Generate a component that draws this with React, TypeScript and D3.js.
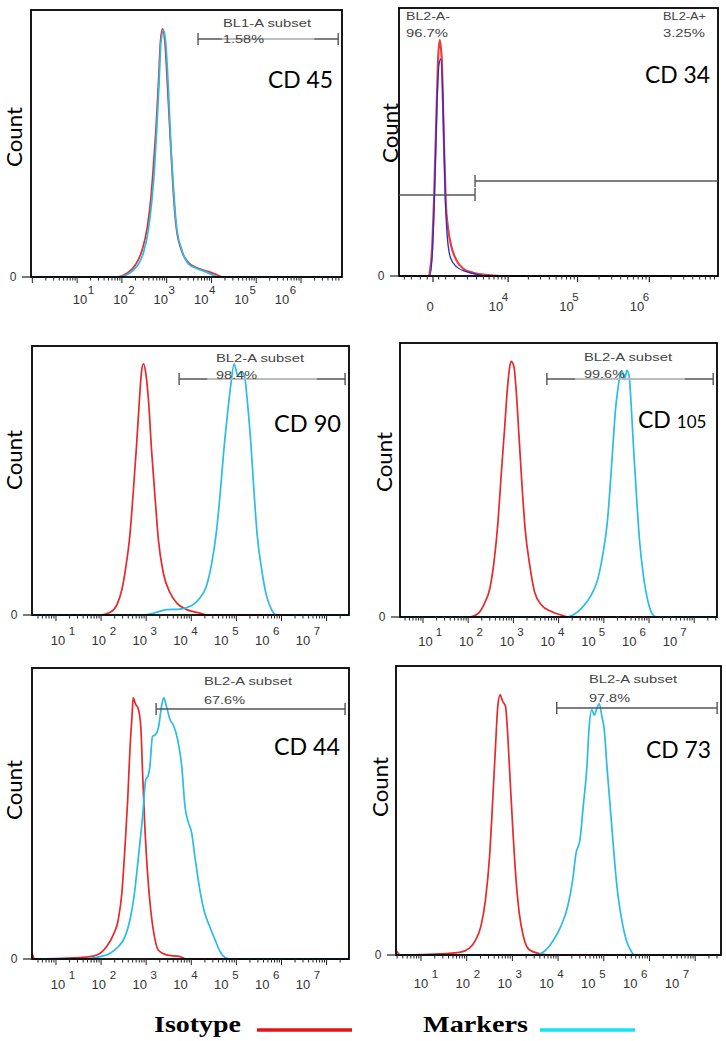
import React from "react";
import * as d3 from "d3";

type Pt = [number, number];

// ---------------- DATA ----------------
// Log panels: x = log10(fluorescence intensity), y = % of full count axis
const cd45Isotype: Pt[] = [[1.9,0],[2.1,1.3],[2.3,4.5],[2.45,10],[2.57,19],[2.65,30],[2.71,43],[2.77,58],[2.82,74],[2.86,88],[2.91,93],[2.96,88],[3.02,71],[3.08,52],[3.14,34],[3.21,19],[3.33,10],[3.48,5.5],[3.67,3.5],[3.9,2.2],[4.1,1],[4.25,0]];
const cd45Marker: Pt[] = [[1.96,0],[2.14,1.1],[2.33,3.9],[2.48,9],[2.59,17.6],[2.67,28.8],[2.73,41],[2.78,56],[2.83,72.5],[2.87,87.5],[2.93,92.5],[2.98,87.5],[3.04,70],[3.09,51],[3.15,34],[3.22,19],[3.34,10],[3.48,5],[3.67,3.2],[3.86,2],[4.04,0.7],[4.19,0]];

// CD34 panel: x = fluorescence intensity on a biexponential axis
const cd34Isotype: Pt[] = [[-173,0],[-56,6],[32,28],[113,59],[173,80],[238,88],[320,81],[408,53],[500,28],[614,18],[795,11],[1105,6],[1607,2.8],[2590,1.2],[4480,0.4],[7420,0]];
const cd34Marker: Pt[] = [[-111,0],[-22,8.4],[56,33],[137,65],[211,79],[291,81],[376,65],[467,33],[564,16],[739,7],[1105,3.5],[1898,1.6],[3440,0.4],[4480,0]];

const cd90Isotype: Pt[] = [[1.98,0],[2.2,1],[2.35,3.8],[2.46,9.4],[2.55,18],[2.64,30],[2.71,45],[2.79,64],[2.85,80],[2.9,91],[2.94,93.4],[2.99,90],[3.05,80],[3.12,61],[3.2,43],[3.27,28],[3.38,15.6],[3.53,8.2],[3.68,4.4],[3.9,2],[4.19,0.7],[4.34,0]];
const cd90Marker: Pt[] = [[2.94,0],[3.23,1],[3.45,2],[3.75,2.2],[4.01,3.5],[4.19,6.3],[4.34,11],[4.45,19],[4.55,30],[4.64,45],[4.72,61],[4.81,76],[4.88,86],[4.95,93.4],[5.03,89],[5.11,90.5],[5.18,88.8],[5.24,80],[5.32,64],[5.39,46],[5.46,30],[5.56,17],[5.67,7],[5.78,2],[5.89,0]];

const cd105Isotype: Pt[] = [[2.03,0],[2.22,1.3],[2.36,5],[2.48,10.5],[2.57,20],[2.66,35],[2.73,52],[2.81,70],[2.87,84],[2.92,91.5],[2.95,93.3],[3.01,91.5],[3.06,83],[3.12,67],[3.19,48],[3.26,32],[3.36,19],[3.47,9],[3.62,4.4],[3.84,2],[4.06,0.7],[4.21,0]];
const cd105Marker: Pt[] = [[4.19,0],[4.32,0.7],[4.54,3.8],[4.72,8],[4.87,14],[4.98,23],[5.08,35],[5.15,50],[5.22,67],[5.26,76],[5.31,83],[5.37,89],[5.41,89.6],[5.46,86.6],[5.51,90],[5.56,88],[5.61,76],[5.66,61],[5.72,45],[5.79,28],[5.88,14.6],[5.98,5.5],[6.07,1.2],[6.16,0]];

const cd44Isotype: Pt[] = [[0.47,1.7],[0.52,0],[1.53,0.5],[1.75,0.8],[1.98,2],[2.12,4.2],[2.27,8.3],[2.38,13.4],[2.46,22.6],[2.53,38.6],[2.59,54.7],[2.64,72],[2.69,84.5],[2.71,89.7],[2.77,87.4],[2.82,86.2],[2.88,80],[2.92,64],[2.97,45.5],[3.03,29.5],[3.1,16.9],[3.17,8.8],[3.27,3],[3.45,1.4],[3.75,0.8],[3.9,0]];
const cd44Marker: Pt[] = [[1.57,0],[1.98,0.8],[2.2,2],[2.38,4.2],[2.53,7.7],[2.64,13.4],[2.73,21.4],[2.82,34],[2.92,49],[2.99,61.6],[3.05,63.3],[3.08,66],[3.14,76.5],[3.2,77],[3.27,79.4],[3.34,86.8],[3.39,89.7],[3.45,86.8],[3.53,82.2],[3.6,80.5],[3.7,75.2],[3.79,66],[3.86,52.4],[3.93,47.2],[4.01,43.2],[4.08,35.2],[4.19,23.7],[4.3,15.7],[4.41,11.1],[4.53,6.5],[4.64,2.5],[4.75,0.5],[4.86,0]];

const cd73Isotype: Pt[] = [[0.46,1.3],[0.54,0],[1.55,0.5],[1.84,0.9],[2.06,2.4],[2.2,5.3],[2.31,9.9],[2.41,19],[2.5,34],[2.57,53.7],[2.63,72],[2.68,86],[2.73,90],[2.79,87.7],[2.85,86],[2.9,75.6],[2.95,60.6],[3.01,43.3],[3.08,26],[3.15,14.5],[3.24,6.5],[3.37,1.8],[3.59,0.5],[3.81,0]];
const cd73Marker: Pt[] = [[3.52,0],[3.7,1.3],[3.88,4.7],[4.06,9.9],[4.21,16.8],[4.32,26],[4.39,35],[4.48,40],[4.55,51.4],[4.63,65],[4.68,79],[4.74,84.8],[4.79,83],[4.85,85.4],[4.9,87],[4.96,82.5],[5.01,78],[5.07,65],[5.14,51.4],[5.21,37.6],[5.28,24.9],[5.38,13.4],[5.49,5.3],[5.6,1.3],[5.67,0]];

// Tick labels (decade exponents)
const decades6 = [1, 2, 3, 4, 5, 6];
const decades7 = [1, 2, 3, 4, 5, 6, 7];
const cd34Decades = [4, 5, 6];
const cd34Minor = [-1500, -1000, -500, -200, 200, 500, 1000, 2000, 3000, 4000, 5000, 6000, 7000, 8000, 9000,
  20000, 30000, 40000, 50000, 60000, 70000, 80000, 90000, 200000, 300000, 400000, 500000, 600000, 700000, 800000, 900000,
  2000000, 3000000, 4000000, 5000000, 6000000, 7000000, 8000000];
const cd34Major = [0, 10000, 100000, 1000000];

// Gates
const cd34GateSplit = 2826;

// ---------------- STYLE ----------------
const ISO = "#e52a2a";
const MK = "#2bbbe8";
const BLUE = "#2b2bd0";
const AX = "#333";
const GATE = "#555";
const SANS = "'Liberation Sans', Arial, sans-serif";
const CAL = "Lato, 'Open Sans', sans-serif";

interface LogPanelCfg {
  box: [number, number, number, number];
  dom: [number, number];
  iso: Pt[];
  mk: Pt[];
  gate: { lo: number; hi: number; y: number; light: boolean; name: string; pct: string; textX: number; nameY: number; pctY: number };
  exps: number[];
  labFirst: number;
  labLast: number;
  labY: number;
  supDx: number;
  count: [number, number];
  title: string;
  titleSmall?: string;
  titleX: number;
  titleY: number;
  titleW: number;
}

const panels: LogPanelCfg[] = [
  { box: [31, 10, 342, 277], dom: [-0.03, 6.915], iso: cd45Isotype, mk: cd45Marker,
    gate: { lo: 3.70, hi: 6.83, y: 39, light: true, name: "BL1-A subset", pct: "1.58%", textX: 223, nameY: 27, pctY: 43 },
    exps: decades6, labFirst: 80, labLast: 282, labY: 304, supDx: 11, count: [13, 137],
    title: "CD 45", titleX: 268, titleY: 88, titleW: 65 },
  { box: [32, 346, 349, 615], dom: [0.468, 7.497], iso: cd90Isotype, mk: cd90Marker,
    gate: { lo: 3.73, hi: 7.41, y: 379, light: true, name: "BL2-A subset", pct: "98.4%", textX: 216, nameY: 362, pctY: 379 },
    exps: decades7, labFirst: 58, labLast: 303, labY: 645, supDx: 14, count: [13, 460],
    title: "CD 90", titleX: 274, titleY: 432, titleW: 67 },
  { box: [400, 343, 717, 617], dom: [0.491, 7.504], iso: cd105Isotype, mk: cd105Marker,
    gate: { lo: 3.74, hi: 7.42, y: 379, light: true, name: "BL2-A subset", pct: "99.6%", textX: 584, nameY: 361, pctY: 378 },
    exps: decades7, labFirst: 425.5, labLast: 670, labY: 646, supDx: 13.5, count: [383, 462],
    title: "CD", titleSmall: "105", titleX: 638, titleY: 428, titleW: 75 },
  { box: [32, 668, 349, 959], dom: [0.468, 7.497], iso: cd44Isotype, mk: cd44Marker,
    gate: { lo: 3.22, hi: 7.41, y: 709, light: false, name: "BL2-A subset", pct: "67.6%", textX: 204, nameY: 685, pctY: 704 },
    exps: decades7, labFirst: 58, labLast: 303, labY: 989, supDx: 14, count: [13, 790],
    title: "CD 44", titleX: 274, titleY: 755, titleW: 66 },
  { box: [396, 666, 721, 955], dom: [0.453, 7.565], iso: cd73Isotype, mk: cd73Marker,
    gate: { lo: 3.97, hi: 7.48, y: 708, light: false, name: "BL2-A subset", pct: "97.8%", textX: 589, nameY: 683, pctY: 702 },
    exps: decades7, labFirst: 421, labLast: 672, labY: 988, supDx: 14, count: [379, 787],
    title: "CD 73", titleX: 646, titleY: 758, titleW: 65 },
];

function logTicks(lo: number, hi: number) {
  const t: { v: number; major: boolean }[] = [];
  for (let k = Math.floor(lo); k <= Math.ceil(hi); k++) {
    for (let m = 1; m <= 9; m++) {
      const v = m * Math.pow(10, k);
      const e = Math.log10(v);
      if (e > lo + 0.02 && e < hi - 0.02) t.push({ v, major: m === 1 });
    }
  }
  return t;
}

function CountLabel({ x, y }: { x: number; y: number }) {
  return (
    <text x={x} y={y} transform={`rotate(-90 ${x} ${y})`} textAnchor="middle" dominantBaseline="central"
      fontFamily={CAL} fontSize={21} fill="#000" textLength={60} lengthAdjust="spacingAndGlyphs">Count</text>
  );
}

function ZeroTick({ x0, y1 }: { x0: number; y1: number }) {
  return (
    <g>
      <line x1={x0 - 9} x2={x0} y1={y1} y2={y1} stroke="#222" strokeWidth={1.2} />
      <text x={x0 - 18} y={y1 + 4} textAnchor="middle" fontFamily={SANS} fontSize={12} fill={AX}>0</text>
    </g>
  );
}

function LogPanel({ p }: { p: LogPanelCfg }) {
  const [x0, y0, x1, y1] = p.box;
  const x = d3.scaleLog().domain([Math.pow(10, p.dom[0]), Math.pow(10, p.dom[1])]).range([x0, x1]);
  const y = d3.scaleLinear().domain([0, 100]).range([y1, y0]);
  const line = d3.line<Pt>().x((d) => x(Math.pow(10, d[0]))).y((d) => y(d[1])).curve(d3.curveMonotoneX);
  const ext = (pts: Pt[]): Pt[] => {
    const out: Pt[] = [];
    if (pts[0][0] > p.dom[0]) out.push([p.dom[0], 0]);
    out.push(...pts);
    if (pts[pts.length - 1][0] < p.dom[1]) out.push([p.dom[1], 0]);
    return out;
  };
  const lab = d3.scaleLinear().domain([p.exps[0], p.exps[p.exps.length - 1]]).range([p.labFirst, p.labLast]);
  const ticks = logTicks(p.dom[0], p.dom[1]);
  const g = p.gate;
  const gx0 = x(Math.pow(10, g.lo));
  const gx1 = x(Math.pow(10, g.hi));
  const gw = gx1 - gx0;
  return (
    <g>
      <path d={line(ext(p.iso)) || ""} fill="none" stroke={ISO} strokeWidth={1.7} />
      <path d={line(ext(p.mk)) || ""} fill="none" stroke={MK} strokeWidth={1.7} />
      <rect x={x0} y={y0} width={x1 - x0} height={y1 - y0} fill="none" stroke="#000" strokeWidth={1.8} />
      {ticks.map((t, i) => (
        <line key={i} x1={x(t.v)} x2={x(t.v)} y1={y1} y2={y1 + (t.major ? 6 : 3.5)} stroke="#222" strokeWidth={1} />
      ))}
      {p.exps.map((e) => (
        <g key={e}>
          <text x={lab(e)} y={p.labY} textAnchor="middle" fontFamily={SANS} fontSize={13} fill={AX}>10</text>
          <text x={lab(e) + p.supDx} y={p.labY - 10} textAnchor="middle" fontFamily={SANS} fontSize={11.5} fill={AX}>{e}</text>
        </g>
      ))}
      <ZeroTick x0={x0} y1={y1} />
      <CountLabel x={p.count[0]} y={p.count[1]} />
      {/* gate */}
      <line x1={gx0} x2={gx1} y1={g.y} y2={g.y} stroke={GATE} strokeWidth={1.4} />
      {g.light && <line x1={gx0 + gw * 0.17} x2={gx0 + gw * 0.83} y1={g.y} y2={g.y} stroke="#d2d2d2" strokeWidth={1.6} />}
      <line x1={gx0} x2={gx0} y1={g.y - 6} y2={g.y + 6} stroke={GATE} strokeWidth={1.4} />
      <line x1={gx1} x2={gx1} y1={g.y - 6} y2={g.y + 6} stroke={GATE} strokeWidth={1.4} />
      <text x={g.textX} y={g.nameY} fontFamily={SANS} fontSize={11.5} fill="#444" textLength={88} lengthAdjust="spacingAndGlyphs">{g.name}</text>
      <text x={g.textX} y={g.pctY} fontFamily={SANS} fontSize={11.5} fill="#444" textLength={41} lengthAdjust="spacingAndGlyphs">{g.pct}</text>
      {p.titleSmall ? (
        <text x={p.titleX} y={p.titleY} fontFamily={CAL} fontSize={23} fill="#000">
          CD<tspan dx={6} fontSize={17}>{p.titleSmall}</tspan>
        </text>
      ) : (
        <text x={p.titleX} y={p.titleY} fontFamily={CAL} fontSize={23} fill="#000" textLength={p.titleW} lengthAdjust="spacingAndGlyphs">{p.title}</text>
      )}
    </g>
  );
}

function CD34Panel() {
  const x0 = 399, y0 = 8, x1 = 718, y1 = 276;
  const x = d3.scaleSymlog().constant(1000).domain([-1962, 8.96e6]).range([x0, x1]);
  const y = d3.scaleLinear().domain([0, 100]).range([y1, y0]);
  const line = d3.line<Pt>().x((d) => x(d[0])).y((d) => y(d[1])).curve(d3.curveMonotoneX);
  const ext = (pts: Pt[]): Pt[] => [[-1962, 0], ...pts, [8.96e6, 0]];
  const lab = d3.scaleLinear().domain([4, 6]).range([496, 637]);
  const gs = x(cd34GateSplit);
  return (
    <g>
      <path d={line(ext(cd34Isotype)) || ""} fill="none" stroke={ISO} strokeWidth={2.2} opacity={0.9} />
      <path d={line(ext(cd34Marker)) || ""} fill="none" stroke={BLUE} strokeWidth={1.3} />
      <rect x={x0} y={y0} width={x1 - x0} height={y1 - y0} fill="none" stroke="#000" strokeWidth={1.8} />
      {cd34Minor.map((v, i) => (
        <line key={i} x1={x(v)} x2={x(v)} y1={y1} y2={y1 + 3.5} stroke="#222" strokeWidth={1} />
      ))}
      {cd34Major.map((v, i) => (
        <line key={i} x1={x(v)} x2={x(v)} y1={y1} y2={y1 + 6} stroke="#222" strokeWidth={1.2} />
      ))}
      <text x={430} y={311} textAnchor="middle" fontFamily={SANS} fontSize={13} fill={AX}>0</text>
      {cd34Decades.map((e) => (
        <g key={e}>
          <text x={lab(e)} y={311} textAnchor="middle" fontFamily={SANS} fontSize={13} fill={AX}>10</text>
          <text x={lab(e) + 9} y={301} textAnchor="middle" fontFamily={SANS} fontSize={11.5} fill={AX}>{e}</text>
        </g>
      ))}
      <ZeroTick x0={x0} y1={y1} />
      <CountLabel x={389} y={133} />
      {/* gates */}
      <line x1={x0} x2={gs} y1={195} y2={195} stroke={GATE} strokeWidth={1.4} />
      <line x1={gs} x2={gs} y1={188} y2={201} stroke={GATE} strokeWidth={1.4} />
      <line x1={gs} x2={x1} y1={181} y2={181} stroke={GATE} strokeWidth={1.4} />
      <line x1={gs} x2={gs} y1={175} y2={187} stroke={GATE} strokeWidth={1.4} />
      <text x={406} y={20} fontFamily={SANS} fontSize={11.5} fill="#444" textLength={44} lengthAdjust="spacingAndGlyphs">BL2-A-</text>
      <text x={406} y={37} fontFamily={SANS} fontSize={11.5} fill="#444" textLength={42} lengthAdjust="spacingAndGlyphs">96.7%</text>
      <text x={663} y={20} fontFamily={SANS} fontSize={11.5} fill="#444" textLength={43} lengthAdjust="spacingAndGlyphs">BL2-A+</text>
      <text x={663} y={37} fontFamily={SANS} fontSize={11.5} fill="#444" textLength={42} lengthAdjust="spacingAndGlyphs">3.25%</text>
      <text x={645} y={83} fontFamily={CAL} fontSize={23} fill="#000" textLength={65} lengthAdjust="spacingAndGlyphs">CD 34</text>
    </g>
  );
}

export default function App() {
  return (
    <svg width={726} height={1041} style={{ position: "absolute", left: 0, top: 0, background: "#fff" }}>
      <rect x={0} y={0} width={726} height={1041} fill="#fff" />
      {panels.map((p, i) => <LogPanel key={i} p={p} />)}
      <CD34Panel />
      {/* legend */}
      <text x={154} y={1032} fontFamily="'Liberation Serif', 'Times New Roman', serif" fontWeight="bold" fontSize={24}
        fill="#000" textLength={87} lengthAdjust="spacingAndGlyphs">Isotype</text>
      <line x1={257} x2={352} y1={1030} y2={1030} stroke="#e01414" strokeWidth={3.5} />
      <text x={423} y={1032} fontFamily="'Liberation Serif', 'Times New Roman', serif" fontWeight="bold" fontSize={24}
        fill="#000" textLength={105} lengthAdjust="spacingAndGlyphs">Markers</text>
      <line x1={540} x2={635} y1={1030} y2={1030} stroke="#14e4f0" strokeWidth={3.5} />
    </svg>
  );
}
